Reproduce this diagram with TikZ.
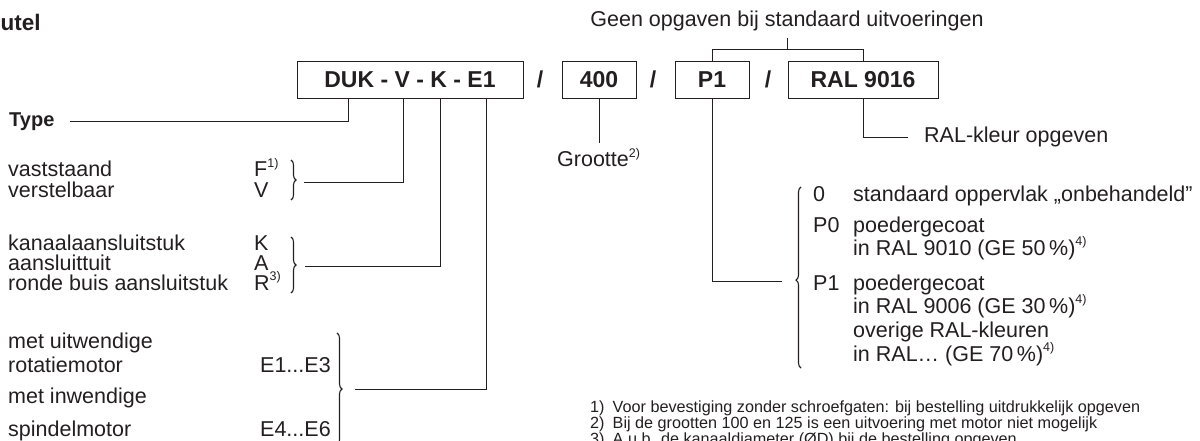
\documentclass[tikz,border=0pt]{standalone}
\usepackage{fontspec}
\setmainfont{Liberation Sans}
\usetikzlibrary{decorations.pathreplacing}
\definecolor{ink}{HTML}{231F20}
\newcommand{\fnmark}[1]{\raisebox{0.45em}{\fontsize{12.5}{12.5}\selectfont #1}}
\begin{document}
\begin{tikzpicture}[x=1pt,y=-1pt,
  every node/.style={inner sep=0pt, text=ink, font=\fontsize{21.5}{20}\selectfont},
  lbl/.style={anchor=base west},
  codebox/.style={draw=ink, line width=0.9pt, minimum height=37pt, font=\fontsize{23}{23}\selectfont\bfseries},
  slash/.style={anchor=base, font=\fontsize{23}{23}\selectfont\bfseries},
  conn/.style={draw=ink, line width=0.9pt},
  brc/.style={draw=ink, decorate, decoration={brace, amplitude=5pt, #1}, line width=1.1pt},
  brc/.default={aspect=0.5},
  foot/.style={anchor=base west, font=\fontsize{16.2}{16}\selectfont}]
\useasboundingbox (0,0) rectangle (1200,441);

% title
\node[anchor=base west, font=\fontsize{22.5}{24}\selectfont\bfseries] (title) at (0.5,31) {utel};

% code boxes
\node[codebox, minimum width=226pt] (duk) at (410,79.5) {DUK - V - K - E1};
\node[slash] (sl1) at (540,88) {/};
\node[codebox, minimum width=74pt] (s400) at (599,79.5) {400};
\node[slash] (sl2) at (653,88) {/};
\node[codebox, minimum width=74pt] (p1) at (712,79.5) {P1};
\node[slash] (sl3) at (768,88) {/};
\node[codebox, minimum width=150pt] (ral) at (863,79.5) {RAL 9016};

% top bracket
\node[anchor=base] (geen) at (787,27) {Geen opgaven bij standaard uitvoeringen};
\coordinate (gtop) at (787,38);
\coordinate (gj) at (787,49);
\draw[conn] (gtop) -- (gj);
\draw[conn] (p1.north) -- (p1.north |- gj) -- (ral.north |- gj) -- (ral.north);

% Type
\node[lbl, font=\fontsize{20}{20}\selectfont\bfseries] (type) at (9,127) {Type};
\coordinate (typeend) at (70,121);
\draw[conn] ([xshift=-62pt]duk.south) |- (typeend);

% group F / V
\node[lbl] (vast) at (8,177) {vaststaand};
\node[lbl] (vers) at (8,197) {verstelbaar};
\node[lbl] (cF) at (254,177) {F\fnmark{1)}};
\node[lbl] (cV) at (254,197) {V};
\draw[brc] (291,160) -- (291,200);
\coordinate (b1tip) at (304,182);
\draw[conn] ([xshift=-7pt]duk.south) |- (b1tip);

% group K / A / R
\node[lbl] (kan) at (8,250) {kanaalaansluitstuk};
\node[lbl] (aan) at (8,270) {aansluittuit};
\node[lbl] (ron) at (8,290) {ronde buis aansluitstuk};
\node[lbl] (cK) at (254,250) {K};
\node[lbl] (cA) at (254,270) {A};
\node[lbl] (cR) at (254,290) {R\fnmark{3)}};
\draw[brc] (291,237) -- (291,293);
\coordinate (b2tip) at (305,266);
\draw[conn] ([xshift=30pt]duk.south) |- (b2tip);

% group E
\node[lbl] (mu) at (8,348) {met uitwendige};
\node[lbl] (rot) at (8,372) {rotatiemotor};
\node[lbl] (mi) at (8,403) {met inwendige};
\node[lbl] (spi) at (8,436) {spindelmotor};
\node[lbl] (cE1) at (260,372) {E1...E3};
\node[lbl] (cE4) at (260,436) {E4...E6};
\draw[brc] (337,333) -- (337,445);
\coordinate (b3tip) at (355,389);
\draw[conn] ([xshift=76pt]duk.south) |- (b3tip);

% Grootte
\node[lbl] (gro) at (557,167) {Grootte\fnmark{2)}};
\coordinate (groend) at (599,143);
\draw[conn] (s400.south) -- (groend);

% RAL-kleur
\node[lbl] (ralk) at (924,143) {RAL-kleur opgeven};
\draw[conn] (ral.south) |- ([xshift=-16pt]ralk.west);

% P options
\node[lbl] (o0) at (813,201) {0};
\node[lbl] (t0) at (853,201) {standaard oppervlak „onbehandeld”};
\node[lbl] (oP0) at (813,233) {P0};
\node[lbl] (tP0a) at (853,233) {poedergecoat};
\node[lbl] (tP0b) at (853,255) {in RAL 9010 (GE 50\,\%)\fnmark{4)}};
\node[lbl] (oP1) at (813,290) {P1};
\node[lbl] (tP1a) at (853,290) {poedergecoat};
\node[lbl] (tP1b) at (853,313) {in RAL 9006 (GE 30\,\%)\fnmark{4)}};
\node[lbl] (tP1c) at (853,337) {overige RAL-kleuren};
\node[lbl] (tP1d) at (853,361) {in RAL… (GE 70\,\%)\fnmark{4)}};
\draw[brc={aspect=0.486}] (801,368) -- (801,187);
\coordinate (b4tip) at (782,281);
\draw[conn] (p1.south) |- (b4tip);

% footnotes
\node[foot] (f1) at (590,412) {1)\hspace{0.5em}Voor bevestiging zonder schroefgaten: bij bestelling uitdrukkelijk opgeven};
\node[foot] (f2) at (590,428) {2)\hspace{0.5em}Bij de grootten 100 en 125 is een uitvoering met motor niet mogelijk};
\node[foot] (f3) at (590,444) {3)\hspace{0.5em}A.u.b. de kanaaldiameter (ØD) bij de bestelling opgeven};
\end{tikzpicture}
\end{document}
